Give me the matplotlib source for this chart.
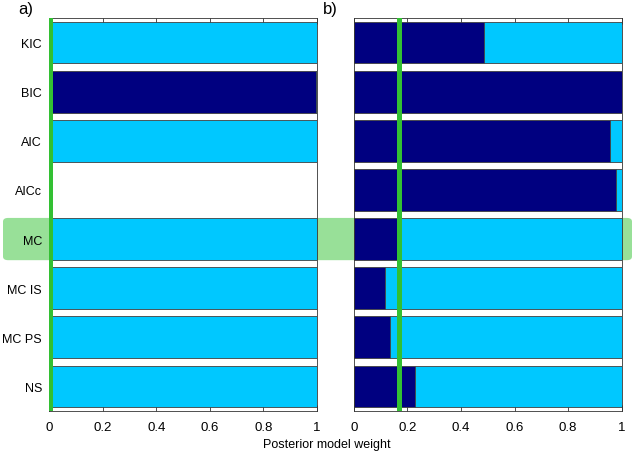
import matplotlib
matplotlib.use("Agg")
import matplotlib.pyplot as plt
import numpy as np
from matplotlib.patches import FancyBboxPatch

plt.rcParams['font.family'] = ['Liberation Sans', 'DejaVu Sans']

models = ["KIC", "BIC", "AIC", "AICc", "MC", "MC IS", "MC PS", "NS"]
# weight of the dark (first) model; NaN = not available
dark_a = [0.0, 0.997, 0.0, np.nan, 0.0, 0.0, 0.0, 0.0]
dark_b = [0.485, 1.0, 0.955, 0.98, 0.16, 0.115, 0.137, 0.228]
ref_a = 0.005
ref_b = 0.17
xticks = [0, 0.2, 0.4, 0.6, 0.8, 1]
xticklabels = ["0", "0.2", "0.4", "0.6", "0.8", "1"]
highlight = "MC"

DARK = "#000080"
LIGHT = "#00c8ff"
GREEN = "#33c033"
BAND = "#98e098"

fig = plt.figure(figsize=(6.34, 4.52), dpi=100)

# highlight band behind everything
hi = models.index(highlight)
n = len(models)
ax_bottom, ax_h = 0.0885, 0.8695
row_h = ax_h / n
yc = ax_bottom + ax_h - (hi + 0.5) * row_h
bh = row_h * 0.86
band = FancyBboxPatch((3 / 634, yc - bh / 2), (632 - 3) / 634, bh,
                      boxstyle="round,pad=0,rounding_size=0.008",
                      transform=fig.transFigure, facecolor=BAND,
                      edgecolor="none", zorder=-5)
fig.patches.append(band)

axA = fig.add_axes([0.0773, ax_bottom, 0.4227, ax_h])
axB = fig.add_axes([0.558, ax_bottom, 0.4227, ax_h])
axA.set_zorder(1)
axB.set_zorder(1)

ypos = np.arange(n)
for ax, dark, ref, lab in [(axA, dark_a, ref_a, "a)"), (axB, dark_b, ref_b, "b)")]:
    d = np.array(dark, dtype=float)
    valid = ~np.isnan(d)
    dv = np.where(valid, d, 0)
    lv = np.where(valid, 1 - dv, 0)
    ax.barh(ypos[valid], dv[valid], height=0.85, color=DARK,
            edgecolor="#404040", linewidth=0.6, zorder=2)
    ax.barh(ypos[valid], lv[valid], left=dv[valid], height=0.85, color=LIGHT,
            edgecolor="#404040", linewidth=0.6, zorder=2)
    ax.axvline(ref, color=GREEN, linewidth=3.6, zorder=3)
    ax.set_xlim(0, 1)
    ax.set_ylim(n - 0.5, -0.5)
    ax.set_xticks(xticks)
    ax.set_xticklabels(xticklabels, fontsize=9.5)
    ax.tick_params(axis="x", direction="in", top=True, length=4, width=0.6,
                   pad=7, colors="#333333", labelcolor="black")
    ax.tick_params(axis="y", length=0)
    for s in ax.spines.values():
        s.set_linewidth(0.6)
        s.set_color("#333333")
    ax.text(-0.116, 1.005, lab, transform=ax.transAxes,
            fontsize=12, ha="left", va="bottom")

axA.set_yticks(ypos)
axA.set_yticklabels(models, fontsize=9)
axA.tick_params(axis="y", pad=5)
axB.set_yticks([])

fig.text(0.516, 0.009, "Posterior model weight", ha="center", va="baseline", fontsize=9)

fig.savefig("out.png", dpi=100)
